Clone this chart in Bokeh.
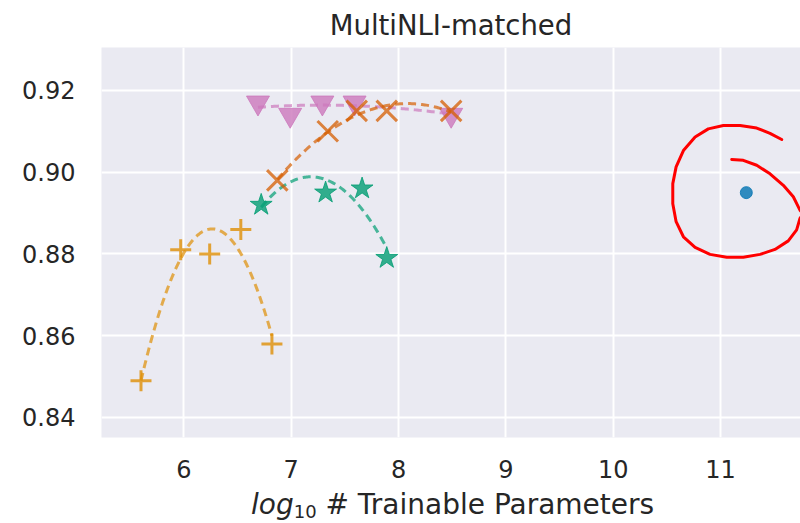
import numpy as np
from bokeh.plotting import figure
from bokeh.layouts import column
from bokeh.models import FixedTicker, Range1d, Div
from bokeh.embed import file_html
from bokeh.resources import INLINE

# ---- data ----
title_text = "MultiNLI-matched"
x_label_log = "log"
x_label_sub = "10"
x_label_main = "# Trainable Parameters"
x_ticks = [6, 7, 8, 9, 10, 11]
y_ticks = [0.84, 0.86, 0.88, 0.90, 0.92]
y_tick_labels = ["0.84", "0.86", "0.88", "0.90", "0.92"]

plus_x = [5.60, 5.97, 6.24, 6.53, 6.82]
plus_y = [0.849, 0.881, 0.880, 0.886, 0.858]

cross_x = [6.87, 7.34, 7.61, 7.89, 8.49]
cross_y = [0.898, 0.910, 0.915, 0.915, 0.915]

star_x = [6.72, 7.32, 7.66, 7.89]
star_y = [0.892, 0.895, 0.896, 0.879]

tri_x = [6.69, 6.99, 7.29, 7.59, 8.49]
tri_y = [0.917, 0.914, 0.917, 0.917, 0.914]

dot_x = [11.24]
dot_y = [0.895]

# hand-drawn red annotation stroke (data coordinates)
ink_x = [11.570, 11.461, 11.337, 11.182, 11.026, 10.886, 10.763, 10.654, 10.586,
         10.555, 10.555, 10.586, 10.654, 10.763, 10.902, 11.058, 11.212, 11.368,
         11.507, 11.631, 11.709, 11.740, 11.771, 11.740, 11.678, 11.585, 11.461,
         11.337, 11.212, 11.104]
ink_y = [0.9080, 0.9095, 0.9108, 0.9114, 0.9114, 0.9106, 0.9086, 0.9053, 0.9013,
         0.8972, 0.8923, 0.8879, 0.8842, 0.8816, 0.8799, 0.8792, 0.8792, 0.8799,
         0.8811, 0.8832, 0.8859, 0.8887, 0.8898, 0.8907, 0.8940, 0.8968, 0.8996,
         0.9017, 0.9029, 0.9031]

FONT = "DejaVu Sans"
TXT = "#262626"

p = figure(width=800, height=484, output_backend="svg", toolbar_location=None,
           x_range=Range1d(5.232, 11.745), y_range=Range1d(0.8351, 0.9305),
           min_border_left=101, min_border_right=0, min_border_top=45,
           min_border_bottom=47,
           background_fill_color="#eaeaf2", border_fill_color="white",
           outline_line_color=None)

p.title.text = title_text
p.title.align = "center"
p.title.offset = 6
p.title.standoff = 13
p.title.text_font = FONT
p.title.text_font_size = "27.5px"
p.title.text_font_style = "normal"
p.title.text_color = TXT

for ax in (p.xaxis, p.yaxis):
    ax.axis_line_color = None
    ax.major_tick_line_color = None
    ax.minor_tick_line_color = None
    ax.major_tick_out = 0
    ax.major_tick_in = 0
    ax.major_label_text_font = FONT
    ax.major_label_text_font_size = "24px"
    ax.major_label_text_color = TXT

p.xaxis.ticker = FixedTicker(ticks=x_ticks)
p.yaxis.ticker = FixedTicker(ticks=y_ticks)
p.yaxis.major_label_overrides = {t: s for t, s in zip(y_ticks, y_tick_labels)}
p.xaxis.major_label_standoff = 22
p.yaxis.major_label_standoff = 26

p.xgrid.grid_line_color = "white"
p.ygrid.grid_line_color = "white"
p.xgrid.grid_line_width = 2
p.ygrid.grid_line_width = 2

DASH = "8 5"


def fit_curve(xs, ys, color):
    c = np.polyfit(xs, ys, 2)
    xx = np.linspace(min(xs), max(xs), 120)
    p.line(xx, np.polyval(c, xx), line_color=color, line_width=3,
           line_dash=DASH, line_alpha=0.7)


# pink triangles
p.scatter(tri_x, tri_y, marker="inverted_triangle", size=23, fill_color="#cc78bc",
          line_color="#cc78bc", fill_alpha=0.8, line_alpha=0.8)
fit_curve(tri_x, tri_y, "#cc78bc")

# yellow-orange plus
p.scatter(plus_x, plus_y, marker="cross", size=21, line_color="#de8f05",
          line_width=3, line_alpha=0.8)
fit_curve(plus_x, plus_y, "#de8f05")

# green stars
p.scatter(star_x, star_y, marker="star", size=23, fill_color="#029e73",
          line_color="#029e73", fill_alpha=0.8, line_alpha=0.8)
fit_curve(star_x, star_y, "#029e73")

# orange x
p.scatter(cross_x, cross_y, marker="x", size=29, line_color="#d55e00",
          line_width=3, line_alpha=0.75)
fit_curve(cross_x, cross_y, "#d55e00")

# blue dot
p.scatter(dot_x, dot_y, marker="circle", size=12, fill_color="#0173b2",
          line_color="#0173b2", fill_alpha=0.8, line_alpha=0.8)

# red hand-drawn annotation
p.line(ink_x, ink_y, line_color="#ff0000", line_width=3,
       line_join="round", line_cap="round")

xlabel_html = (
    f'<div style="font-family:\'{FONT}\';font-size:28px;line-height:30px;'
    f'color:{TXT};padding-top:1px;padding-left:246px;white-space:nowrap;">'
    f'<i>{x_label_log}</i>'
    f'<span style="font-size:18px;vertical-align:-4px;line-height:0;">{x_label_sub}</span>'
    f' {x_label_main}</div>'
)
xlabel = Div(text=xlabel_html, width=800, height=39)

layout = column(p, xlabel, spacing=0)

open("out.html", "w").write(file_html(layout, INLINE))
